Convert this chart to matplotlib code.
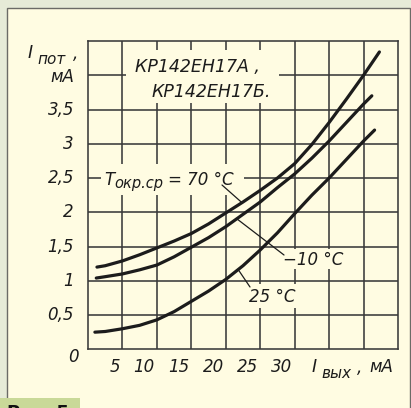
import numpy as np
import matplotlib
matplotlib.use("Agg")
import matplotlib.pyplot as plt
from matplotlib.patches import Rectangle
from matplotlib.transforms import offset_copy

# ---------------- data ----------------
X_70 = [1.3, 2.5, 5, 7.5, 10, 12.5, 15, 17.5, 20, 22.5, 25, 27.5, 30, 32.5, 35, 37.5, 40, 42.3]
Y_70 = [1.20, 1.22, 1.29, 1.38, 1.48, 1.58, 1.69, 1.83, 1.99, 2.15, 2.32, 2.50, 2.71, 2.99, 3.31, 3.65, 4.00, 4.34]

X_M10 = [1.2, 2.5, 5, 7.5, 10, 12.5, 15, 17.5, 20, 22.5, 25, 27.5, 30, 32.5, 35, 37.5, 40, 41.2]
Y_M10 = [1.04, 1.06, 1.10, 1.16, 1.23, 1.35, 1.49, 1.63, 1.79, 1.97, 2.15, 2.36, 2.56, 2.79, 3.04, 3.31, 3.58, 3.70]

X_25 = [1.0, 2.5, 5, 7.5, 10, 12.5, 15, 17.5, 20, 22.5, 25, 27.5, 30, 32.5, 35, 37.5, 40, 41.6]
Y_25 = [0.25, 0.26, 0.30, 0.35, 0.43, 0.55, 0.70, 0.85, 1.02, 1.22, 1.45, 1.70, 1.98, 2.25, 2.50, 2.77, 3.04, 3.20]

X_TICKS = [5, 10, 15, 20, 25, 30]
X_TICK_LABELS = ["5", "10", "15", "20", "25", "30"]
Y_TICKS = [0.5, 1, 1.5, 2, 2.5, 3, 3.5]
Y_TICK_LABELS = ["0,5", "1", "1,5", "2", "2,5", "3", "3,5"]
X_GRID = [5, 10, 15, 20, 25, 30, 35, 40]
Y_GRID = [0.5, 1, 1.5, 2, 2.5, 3, 3.5, 4]

TITLE_1 = "КР142ЕН17А ,"
TITLE_2 = "КР142ЕН17Б."
LBL_70 = "= 70 °С"
LBL_M10 = "−10 °С"
LBL_25 = "25 °С"
FIG_LABEL = "Рис. 5"

# ---------------- style ----------------
W, H = 411, 408
OUTER = "#e6ebd7"
CREAM = "#fffce2"
BORDER = "#6b6b66"
GREEN = "#c9d998"
GRIDC = "#3a3a3a"
INK = "#1c1c1c"

plt.rcParams["font.family"] = ["DejaVu Sans"]

fig = plt.figure(figsize=(W / 100, H / 100), dpi=100, facecolor=OUTER)


def fx(px):
    return px / W


def fy(py):
    return 1 - py / H


# panel
fig.patches.append(Rectangle((fx(7), -0.2), fx(409.5) - fx(7), fy(8) + 0.2,
                             transform=fig.transFigure, facecolor=CREAM,
                             edgecolor=BORDER, linewidth=1.0, zorder=-5))
fig.patches.append(Rectangle((0, 0), fx(80), 10 / H, transform=fig.transFigure,
                             facecolor=GREEN, edgecolor="none", zorder=-4))
fig.text(fx(7), fy(403.5), FIG_LABEL, ha="left", va="top", fontsize=13,
         fontweight="bold", color="#111111", zorder=-3)

left, right, top, bottom = 88, 398, 41, 349.3
ax = fig.add_axes([fx(left), fy(bottom), (right - left) / W, (bottom - top) / H])
ax.patch.set_alpha(0)
ax.set_xlim(0, 45)
ax.set_ylim(0, 4.5)
ax.set_xticks([])
ax.set_yticks([])
for s in ax.spines.values():
    s.set_color(GRIDC)
    s.set_linewidth(1.15)

for xv in X_GRID:
    ax.axvline(xv, color=GRIDC, lw=1.15, zorder=1)
for yv in Y_GRID:
    ax.axhline(yv, color=GRIDC, lw=1.15, zorder=1)

# masks behind text (hide gridlines like the original drawing)
def mask(x0, y0, x1, y1):
    ax.add_patch(Rectangle((fx(x0), fy(y1)), fx(x1) - fx(x0), fy(y0) - fy(y1),
                           transform=fig.transFigure, facecolor=CREAM,
                           edgecolor="none", zorder=2))

mask(126, 50, 279, 103)
mask(101, 164, 244, 195)
mask(280, 249, 340, 269)
mask(247, 284, 303, 308)

# curves
for xs, ys in [(X_70, Y_70), (X_M10, Y_M10), (X_25, Y_25)]:
    ax.plot(xs, ys, color=INK, lw=2.3, solid_capstyle="round",
            solid_joinstyle="round", zorder=3)

# tick labels
tk = dict(fontsize=12, fontstyle="italic", color=INK)
ytr = offset_copy(ax.transData, fig=fig, x=-14, y=0, units="dots")
for v, lab in zip(Y_TICKS, Y_TICK_LABELS):
    ax.text(0, v, lab, transform=ytr, ha="right", va="center", **tk)
xtr = offset_copy(ax.transData, fig=fig, x=-2, y=-17.5, units="dots")
for v, lab in zip(X_TICKS, X_TICK_LABELS):
    ax.text(v, 0, lab, transform=xtr, ha="right", va="center", **tk)
ztr = offset_copy(ax.transData, fig=fig, x=-15, y=-8, units="dots")
ax.text(0, 0, "0", transform=ztr, ha="center", va="center", **tk)

# axis labels
it = dict(fontstyle="italic", color=INK, zorder=5)
fig.text(fx(28), fy(58.5), "I", fontsize=12.5, ha="left", va="baseline", **it)
fig.text(fx(37), fy(63.5), "пот", fontsize=11, ha="left", va="baseline", **it)
fig.text(fx(73), fy(59), ",", fontsize=12, ha="left", va="baseline", **it)
fig.text(fx(74), fy(82.5), "мА", fontsize=12, ha="right", va="baseline", **it)

fig.text(fx(312), fy(372.5), "I", fontsize=12.5, ha="left", va="baseline", **it)
fig.text(fx(321), fy(377.5), "вых", fontsize=11, ha="left", va="baseline", **it)
fig.text(fx(357), fy(373), ",", fontsize=12, ha="left", va="baseline", **it)
fig.text(fx(369), fy(372.5), "мА", fontsize=12, ha="left", va="baseline", **it)

# device names
fig.text(fx(135), fy(71.7), TITLE_1, fontsize=12.5, ha="left", va="baseline", **it)
fig.text(fx(152), fy(96.7), TITLE_2, fontsize=12.5, ha="left", va="baseline", **it)

# temperature labels
fig.text(fx(104), fy(185.5), "T", fontsize=12, ha="left", va="baseline", **it)
fig.text(fx(114), fy(188), "окр.ср", fontsize=10.5, ha="left", va="baseline", **it)
fig.text(fx(168), fy(185.5), LBL_70, fontsize=12, ha="left", va="baseline", **it)
fig.text(fx(283), fy(265), LBL_M10, fontsize=12, ha="left", va="baseline", **it)
fig.text(fx(249), fy(302.5), LBL_25, fontsize=12, ha="left", va="baseline", **it)

# leader lines
def leader(xs, ys, xd, p0):
    yd = float(np.interp(xd, xs, ys))
    ax.annotate("", xy=(xd, yd), xytext=(p0[0], H - p0[1]),
                textcoords="figure pixels",
                arrowprops=dict(arrowstyle="-", color=INK, lw=0.9,
                                shrinkA=0, shrinkB=0),
                zorder=4, annotation_clip=False)

leader(X_70, Y_70, 22.35, (222, 185))
leader(X_M10, Y_M10, 21.6, (284, 255))
leader(X_25, Y_25, 21.8, (250, 287))

fig.savefig("out.png", dpi=100, facecolor=OUTER)
